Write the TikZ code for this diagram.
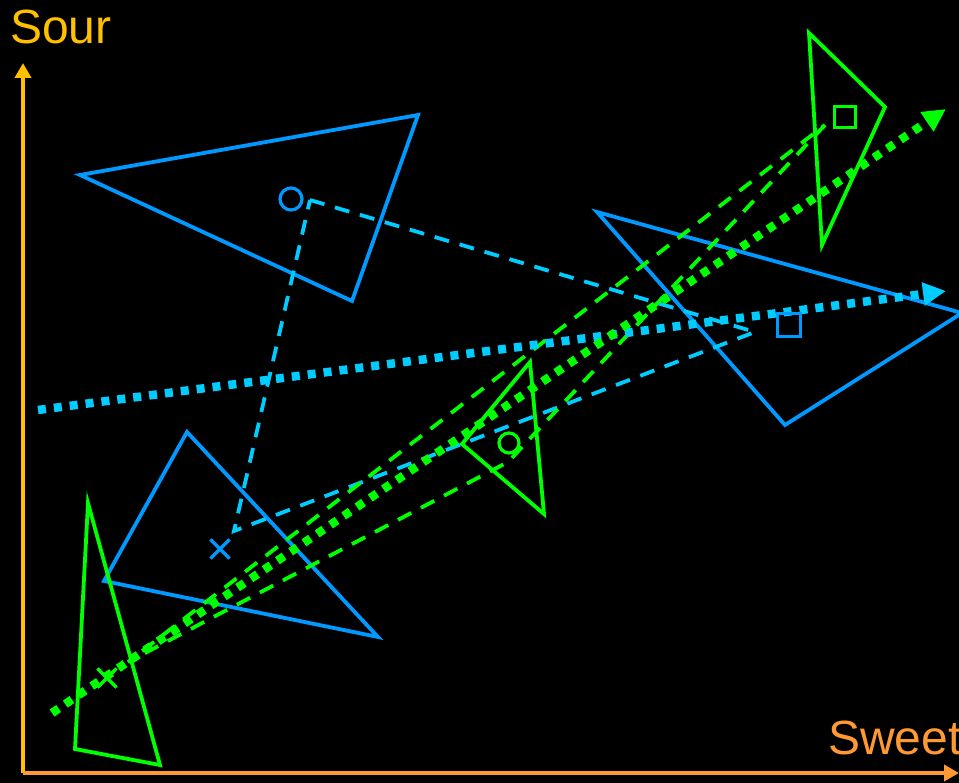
\documentclass[tikz,border=0pt]{standalone}
\usepackage{fontspec}
\setmainfont{Liberation Sans}
\usetikzlibrary{arrows.meta,shapes.misc}
\definecolor{triblue}{RGB}{0,153,255}
\definecolor{cyanl}{RGB}{0,204,255}
\definecolor{gr}{RGB}{0,255,0}
\definecolor{gold}{RGB}{255,192,0}
\definecolor{orng}{RGB}{255,153,51}
\tikzset{
  tri/.style={line width=3.8pt, line join=miter},
  dsh/.style={line width=3.8pt, dash pattern=on 15pt off 11pt},
  dots/.style={line width=8.5pt, dash pattern=on 8pt off 8pt, -{Triangle[length=23pt,width=22pt]}},
  mcirc/.style={circle, draw, line width=3.2pt, minimum size=22pt, inner sep=0pt},
  msq/.style={rectangle, draw, line width=3.2pt, minimum size=23pt, inner sep=0pt},
  mx/.style={cross out, draw, line width=3.2pt, minimum size=16pt, inner sep=0pt},
  axis/.style={line width=3.8pt, -{Triangle[length=15pt,width=16pt]}},
  lab/.style={font=\fontsize{48}{52}\selectfont, inner sep=0pt, anchor=base west}
}
\begin{document}
\begin{tikzpicture}[x=1pt,y=-1pt]
\fill[black] (0,0) rectangle (959,783);
\useasboundingbox (0,0) rectangle (959,783);
\clip (0,0) rectangle (959,783);

% blue triangles
\coordinate (b1a) at (80,175); \coordinate (b1b) at (418,115); \coordinate (b1c) at (352,301);
\coordinate (b2a) at (187,432); \coordinate (b2b) at (104,581); \coordinate (b2c) at (378,637);
\coordinate (b3a) at (597,212); \coordinate (b3b) at (962,313); \coordinate (b3c) at (785,425);
\draw[tri, triblue] (b1a) -- (b1b) -- (b1c) -- cycle;
\draw[tri, triblue] (b2a) -- (b2b) -- (b2c) -- cycle;
\draw[tri, triblue] (b3a) -- (b3b) -- (b3c) -- cycle;

% green triangles
\coordinate (g1a) at (530,362); \coordinate (g1b) at (462,444); \coordinate (g1c) at (544,514);
\coordinate (g2a) at (809,33); \coordinate (g2b) at (885,107); \coordinate (g2c) at (822,245);
\coordinate (g3a) at (88,503); \coordinate (g3b) at (75,749); \coordinate (g3c) at (160,765);
\draw[tri, gr] (g1a) -- (g1b) -- (g1c) -- cycle;
\draw[tri, gr] (g2a) -- (g2b) -- (g2c) -- cycle;
\draw[tri, gr] (g3a) -- (g3b) -- (g3c) -- cycle;

% dashed triangles
\coordinate (bd1) at (310,200); \coordinate (bd2) at (755,332); \coordinate (bd3) at (234,531);
\draw[dsh, cyanl] (bd1) -- (bd2) -- (bd3) -- cycle;
\coordinate (gd1) at (825,125); \coordinate (gd2) at (508,462); \coordinate (gd3) at (128,662);
\draw[dsh, gr] (gd1) -- (gd2) -- (gd3) -- cycle;

% dotted arrows
\coordinate (bs) at (38,410); \coordinate (be) at (946,291);
\draw[dots, cyanl] (bs) -- (be);
\coordinate (gs) at (52,713); \coordinate (ge) at (946,109);
\draw[dots, gr] (gs) -- (ge);

% markers
\node[mcirc, triblue] (mbc) at (291,199) {};
\node[msq, triblue] (mbs) at (789,325) {};
\node[mx, triblue] (mbx) at (220,549) {};
\node[mcirc, gr, minimum size=20pt] (mgc) at (509,443) {};
\node[msq, gr, minimum size=21pt] (mgs) at (845,117) {};
\node[mx, gr] (mgx) at (107,678) {};

% axes
\coordinate (o) at (23,773); \coordinate (yt) at (23,63); \coordinate (xt) at (959,773);
\draw[axis, gold] (o) -- (yt);
\draw[axis, orng] (o) -- (xt);
\node[lab, text=gold] (sour) at (10,44) {Sour};
\node[lab, text=orng] (sweet) at (828,754) {Sweet};
\end{tikzpicture}
\end{document}
